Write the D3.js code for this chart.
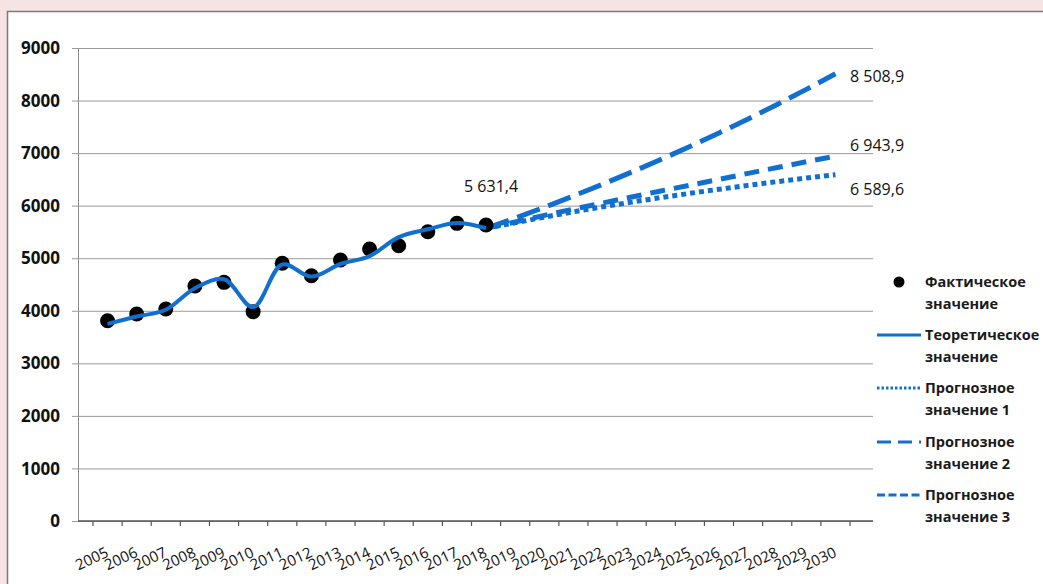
<!DOCTYPE html>
<html>
<head>
<meta charset="utf-8">
<script src="https://cdn.jsdelivr.net/npm/d3@7/dist/d3.min.js"></script>
<style>
  body { margin: 0; background: #f6e4e4; }
  svg { display: block; font-family: "Open Sans", "Noto Sans", sans-serif; }
</style>
</head>
<body>
<div id="chart"></div>
<script>
// categories and values
var years = ["2005","2006","2007","2008","2009","2010","2011","2012","2013","2014","2015","2016","2017","2018",
             "2019","2020","2021","2022","2023","2024","2025","2026","2027","2028","2029","2030"];
var factYears = years.slice(0, 14);
var factValues = [3811, 3938, 4033, 4471, 4541, 3983, 4903, 4667, 4966, 5175, 5238, 5504, 5664, 5631.4];
var theorValues = [3750, 3890, 4020, 4430, 4600, 4070, 4880, 4650, 4890, 5040, 5400, 5550, 5670, 5570];
var forecastYears = years.slice(13);
var forecast1 = [5570, 5675, 5782, 5883, 5978, 6068, 6153, 6235, 6312, 6386, 6457, 6525, 6589.6];
var forecast2 = [5570, 5761, 5969, 6184, 6407, 6638, 6878, 7126, 7384, 7650, 7927, 8213, 8508.9];
var forecast3 = [5570, 5690, 5815, 5935, 6050, 6165, 6280, 6390, 6500, 6615, 6725, 6835, 6943.9];
var yTicks = [0, 1000, 2000, 3000, 4000, 5000, 6000, 7000, 8000, 9000];
var endLabels = ["8 508,9", "6 943,9", "6 589,6"];
var factLabel = "5 631,4";
var legendNames = [["Фактическое", "значение"], ["Теоретическое", "значение"],
                   ["Прогнозное", "значение 1"], ["Прогнозное", "значение 2"], ["Прогнозное", "значение 3"]];

const width = 1043, height = 584;
const blue = "#1170cf";
const plotLeft = 78, plotRight = 873, plotTop = 48, plotBottom = 521;

const svg = d3.select("#chart").append("svg")
    .attr("width", width)
    .attr("height", height);

// white chart panel
svg.append("rect")
    .attr("x", 7.5).attr("y", 11.5)
    .attr("width", width).attr("height", height)
    .attr("fill", "#fff")
    .attr("stroke", "#7a7a7a")
    .attr("stroke-width", 1.5);

var x = d3.scaleBand().domain(years).range([93, 850]);
var y = d3.scaleLinear().domain([0, 9000]).range([plotBottom, plotTop]);
function cx(d) { return x(d) + x.bandwidth() / 2; }

// grid lines + y axis
var yAxis = d3.axisLeft(y).tickValues(yTicks).tickSize(-(plotRight - plotLeft)).tickSizeOuter(0).tickFormat("");
var gy = svg.append("g")
    .attr("transform", "translate(" + plotLeft + ",0)")
    .call(yAxis);
gy.select(".domain").attr("stroke", "#8c8c8c");
gy.selectAll(".tick line").attr("stroke", "#9a9a9a").attr("x1", -6);

svg.selectAll(".ylab")
    .data(yTicks)
  .enter().append("text")
    .attr("class", "ylab")
    .attr("x", 60)
    .attr("y", function(d) { return y(d); })
    .attr("dy", "0.36em")
    .attr("text-anchor", "end")
    .attr("font-size", "17px")
    .attr("font-weight", "bold")
    .attr("fill", "#111")
    .text(function(d) { return d; });

// x axis: ticks between categories
var gx = svg.append("g");
gx.append("line")
    .attr("x1", plotLeft).attr("x2", plotRight)
    .attr("y1", plotBottom).attr("y2", plotBottom)
    .attr("stroke", "#555").attr("stroke-width", 1.5);
var bounds = years.map(function(d) { return x(d); }).concat([x.range()[1]]);
gx.selectAll(".xt")
    .data(bounds)
  .enter().append("line")
    .attr("x1", function(d) { return d; }).attr("x2", function(d) { return d; })
    .attr("y1", plotBottom).attr("y2", plotBottom + 5)
    .attr("stroke", "#555").attr("stroke-width", 1.2);

gx.selectAll(".xlab")
    .data(years)
  .enter().append("text")
    .attr("text-anchor", "end")
    .attr("font-size", "15px")
    .attr("fill", "#111")
    .attr("transform", function(d) { return "translate(" + (cx(d) + 2) + "," + 556 + ") rotate(-25)"; })
    .text(function(d) { return d; });

// theoretical line
var theorLine = d3.line()
    .x(function(d, i) { return cx(factYears[i]); })
    .y(function(d) { return y(d); })
    .curve(d3.curveCatmullRom.alpha(0.5));

// forecasts
var fLine = d3.line()
    .x(function(d, i) { return cx(forecastYears[i]); })
    .y(function(d) { return y(d); });

svg.append("path")
    .attr("d", fLine(forecast2))
    .attr("fill", "none").attr("stroke", blue).attr("stroke-width", 5)
    .attr("stroke-dasharray", "24,9");
svg.append("path")
    .attr("d", fLine(forecast3))
    .attr("fill", "none").attr("stroke", blue).attr("stroke-width", 5)
    .attr("stroke-dasharray", "15,9");
svg.append("path")
    .attr("d", fLine(forecast1))
    .attr("fill", "none").attr("stroke", blue).attr("stroke-width", 5)
    .attr("stroke-dasharray", "5,4");

// actual points
svg.selectAll(".pt")
    .data(factValues)
  .enter().append("circle")
    .attr("cx", function(d, i) { return cx(factYears[i]); })
    .attr("cy", function(d) { return y(d); })
    .attr("r", 7.5)
    .attr("fill", "#000");

svg.append("path")
    .attr("d", theorLine(theorValues))
    .attr("fill", "none").attr("stroke", blue).attr("stroke-width", 4);

// data labels
svg.append("text")
    .attr("x", cx("2018") + 5)
    .attr("y", 186).attr("dy", "0.36em")
    .attr("text-anchor", "middle")
    .attr("font-size", "16px").attr("fill", "#111")
    .text(factLabel);

var endVals = [forecast2[12], forecast3[12], forecast1[12]];
var endOffsets = [2, -11, 15];
svg.selectAll(".endlab")
    .data(endLabels)
  .enter().append("text")
    .attr("x", 850)
    .attr("y", function(d, i) { return y(endVals[i]) + endOffsets[i]; })
    .attr("dy", "0.36em")
    .attr("font-size", "16px").attr("fill", "#111")
    .text(function(d) { return d; });

// legend
var legY = [282, 335, 388, 442, 495];
var leg = svg.append("g");
leg.append("circle").attr("cx", 899).attr("cy", legY[0]).attr("r", 5.5).attr("fill", "#000");
var legDash = [null, null, "2.5,2", "14,7", "8,3.5"];
for (var i = 1; i < 5; i++) {
  leg.append("line")
      .attr("x1", 877).attr("x2", 921)
      .attr("y1", legY[i]).attr("y2", legY[i])
      .attr("stroke", blue).attr("stroke-width", 3)
      .attr("stroke-dasharray", legDash[i]);
}
legendNames.forEach(function(n, i) {
  var t = leg.append("text")
      .attr("x", 925)
      .attr("font-size", "14.5px").attr("font-weight", "bold").attr("fill", "#1a1a1a");
  t.append("tspan").attr("x", 925).attr("y", legY[i]).attr("dy", "0.36em").text(n[0]);
  t.append("tspan").attr("x", 925).attr("y", legY[i] + 22).attr("dy", "0.36em").text(n[1]);
});
</script>
</body>
</html>
